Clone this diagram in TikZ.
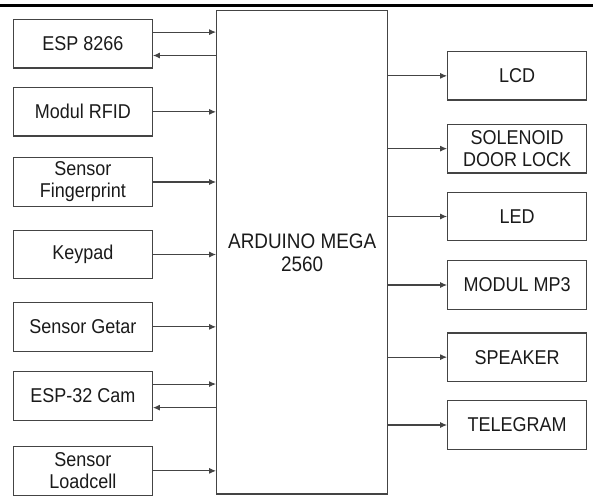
\documentclass[tikz,border=0pt]{standalone}
\usepackage{fontspec}
\setmainfont[FakeStretch=0.9]{Liberation Sans}
\usetikzlibrary{arrows.meta}
\definecolor{linegray}{HTML}{444444}
\definecolor{txt}{HTML}{1A1A1A}
\begin{document}
\begin{tikzpicture}[x=1pt,y=-1pt,
  blk/.style={draw=linegray,line width=1.2pt,minimum width=139pt,minimum height=48.5pt,
    inner sep=0pt,align=center,text=txt,font=\fontsize{20}{22}\selectfont},
  conn/.style={draw=linegray,line width=1.1pt,-{Latex[length=7pt,width=6pt]}}]
\useasboundingbox (0,0) rectangle (593,497);
\draw[line width=3pt] (0,5.3) -- (593,5.3);
\node[draw=linegray,line width=1.2pt,minimum width=171pt,minimum height=483.3pt,inner sep=0pt,
  align=center,text=txt,font=\fontsize{21}{23}\selectfont] (ard) at (302.2,252.35) {ARDUINO MEGA\\2560};
% left
\node[blk] (esp) at (82.8,43.8) {ESP 8266};
\node[blk] (rfid) at (82.8,111.85) {Modul RFID};
\node[blk] (fp) at (82.8,182) {Sensor\\Fingerprint};
\node[blk] (key) at (82.8,254.5) {Keypad};
\node[blk] (get) at (82.8,326.85) {Sensor Getar};
\node[blk] (cam) at (82.8,395.85) {ESP-32 Cam};
\node[blk] (load) at (82.8,470.85) {Sensor\\Loadcell};
% right
\node[blk] (lcd) at (517.2,75.85) {LCD};
\node[blk] (sol) at (517.2,148.65) {SOLENOID\\DOOR LOCK};
\node[blk] (led) at (517.2,216.5) {LED};
\node[blk] (mp3) at (517.2,285) {MODUL MP3};
\node[blk] (spk) at (517.2,357.15) {SPEAKER};
\node[blk] (tel) at (517.2,425) {TELEGRAM};
% connectors left
\draw[conn] ([yshift=11.7pt]esp.east) -- ([yshift=11.7pt]esp.east -| ard.west);
\draw[conn] ([yshift=-11.7pt]esp.east -| ard.west) -- ([yshift=-11.7pt]esp.east);
\foreach \n in {rfid,fp,key,get,load}
  \draw[conn] (\n.east) -- (\n.east -| ard.west);
\draw[conn] ([yshift=11.8pt]cam.east) -- ([yshift=11.8pt]cam.east -| ard.west);
\draw[conn] ([yshift=-11.8pt]cam.east -| ard.west) -- ([yshift=-11.8pt]cam.east);
% connectors right
\foreach \n in {lcd,sol,led,mp3,spk,tel}
  \draw[conn] (\n.west -| ard.east) -- (\n.west);
\end{tikzpicture}
\end{document}
